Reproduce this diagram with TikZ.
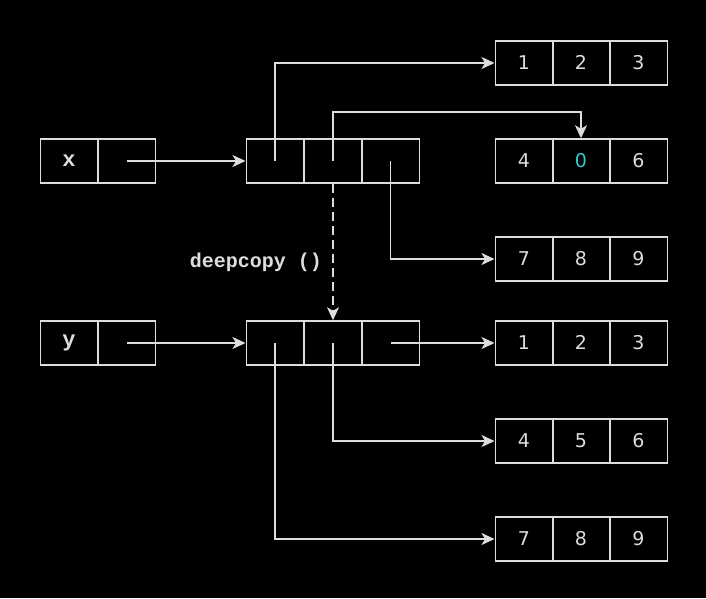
\documentclass[tikz,border=0pt]{standalone}
\usepackage{fontspec}
\usetikzlibrary{arrows.meta}
\newfontfamily\codefont{Liberation Mono}
\newfontfamily\numfont{DejaVu Sans}
\definecolor{ln}{HTML}{DDDDDD}
\definecolor{cy}{HTML}{33CCCC}
\begin{document}
\begin{tikzpicture}[x=1pt,y=-1pt,
  cell/.style={draw=ln, line width=1.5pt, minimum width=57.5pt, minimum height=44pt, inner sep=0pt, text=ln},
  num/.style={cell, font=\numfont\fontsize{19}{19}\selectfont, text height=13.9pt, text depth=0pt},
  var/.style={cell, font=\codefont\bfseries\fontsize{22}{22}\selectfont},
  link/.style={draw=ln, line width=1.5pt, -{Stealth[length=13pt,width=12pt,inset=3.5pt]}},
  lbl/.style={text=ln, font=\codefont\bfseries\fontsize{20}{20}\selectfont, inner sep=0pt}]
\fill[black] (0,0) rectangle (706,598);
\useasboundingbox (0,0) rectangle (706,598);
% variables
\node[var] (xv) at (69,161) {x};
\node[cell] (xp) at (126.5,161) {};
\node[var] (yv) at (69,343) {y};
\node[cell] (yp) at (126.5,343) {};
% outer lists
\foreach \n/\yy in {m1/161, m2/343} {
  \node[cell] (\n a) at (275,\yy) {};
  \node[cell] (\n b) at (333,\yy) {};
  \node[cell] (\n c) at (390.5,\yy) {};
}
% inner lists
\node[num] (r1a) at (524,63) {1};
\node[num] (r1b) at (581,63) {2};
\node[num] (r1c) at (638.5,63) {3};
\node[num] (r2a) at (524,161) {4};
\node[num,text=cy] (r2b) at (581,161) {0};
\node[num] (r2c) at (638.5,161) {6};
\node[num] (r3a) at (524,259) {7};
\node[num] (r3b) at (581,259) {8};
\node[num] (r3c) at (638.5,259) {9};
\node[num] (r4a) at (524,343) {1};
\node[num] (r4b) at (581,343) {2};
\node[num] (r4c) at (638.5,343) {3};
\node[num] (r5a) at (524,441) {4};
\node[num] (r5b) at (581,441) {5};
\node[num] (r5c) at (638.5,441) {6};
\node[num] (r6a) at (524,539) {7};
\node[num] (r6b) at (581,539) {8};
\node[num] (r6c) at (638.5,539) {9};
% connectors
\draw[link] (xp.center) -- (m1a.west);
\draw[link] (yp.center) -- (m2a.west);
\draw[link] (m1a.center) |- (r1a.west);
\coordinate (turn) at (333,112);
\draw[link] (m1b.center) -- (turn) -| (r2b.north);
\draw[link] (m1c.center) |- (r3a.west);
\draw[link, dash pattern=on 9pt off 5pt] (m1b.south) -- (m2b.north);
\draw[link] (m2c.center) -- (r4a.west);
\draw[link] (m2b.center) |- (r5a.west);
\draw[link] (m2a.center) |- (r6a.west);
\node[lbl] (dc) at (256,262) {deepcopy ()};
\end{tikzpicture}
\end{document}
